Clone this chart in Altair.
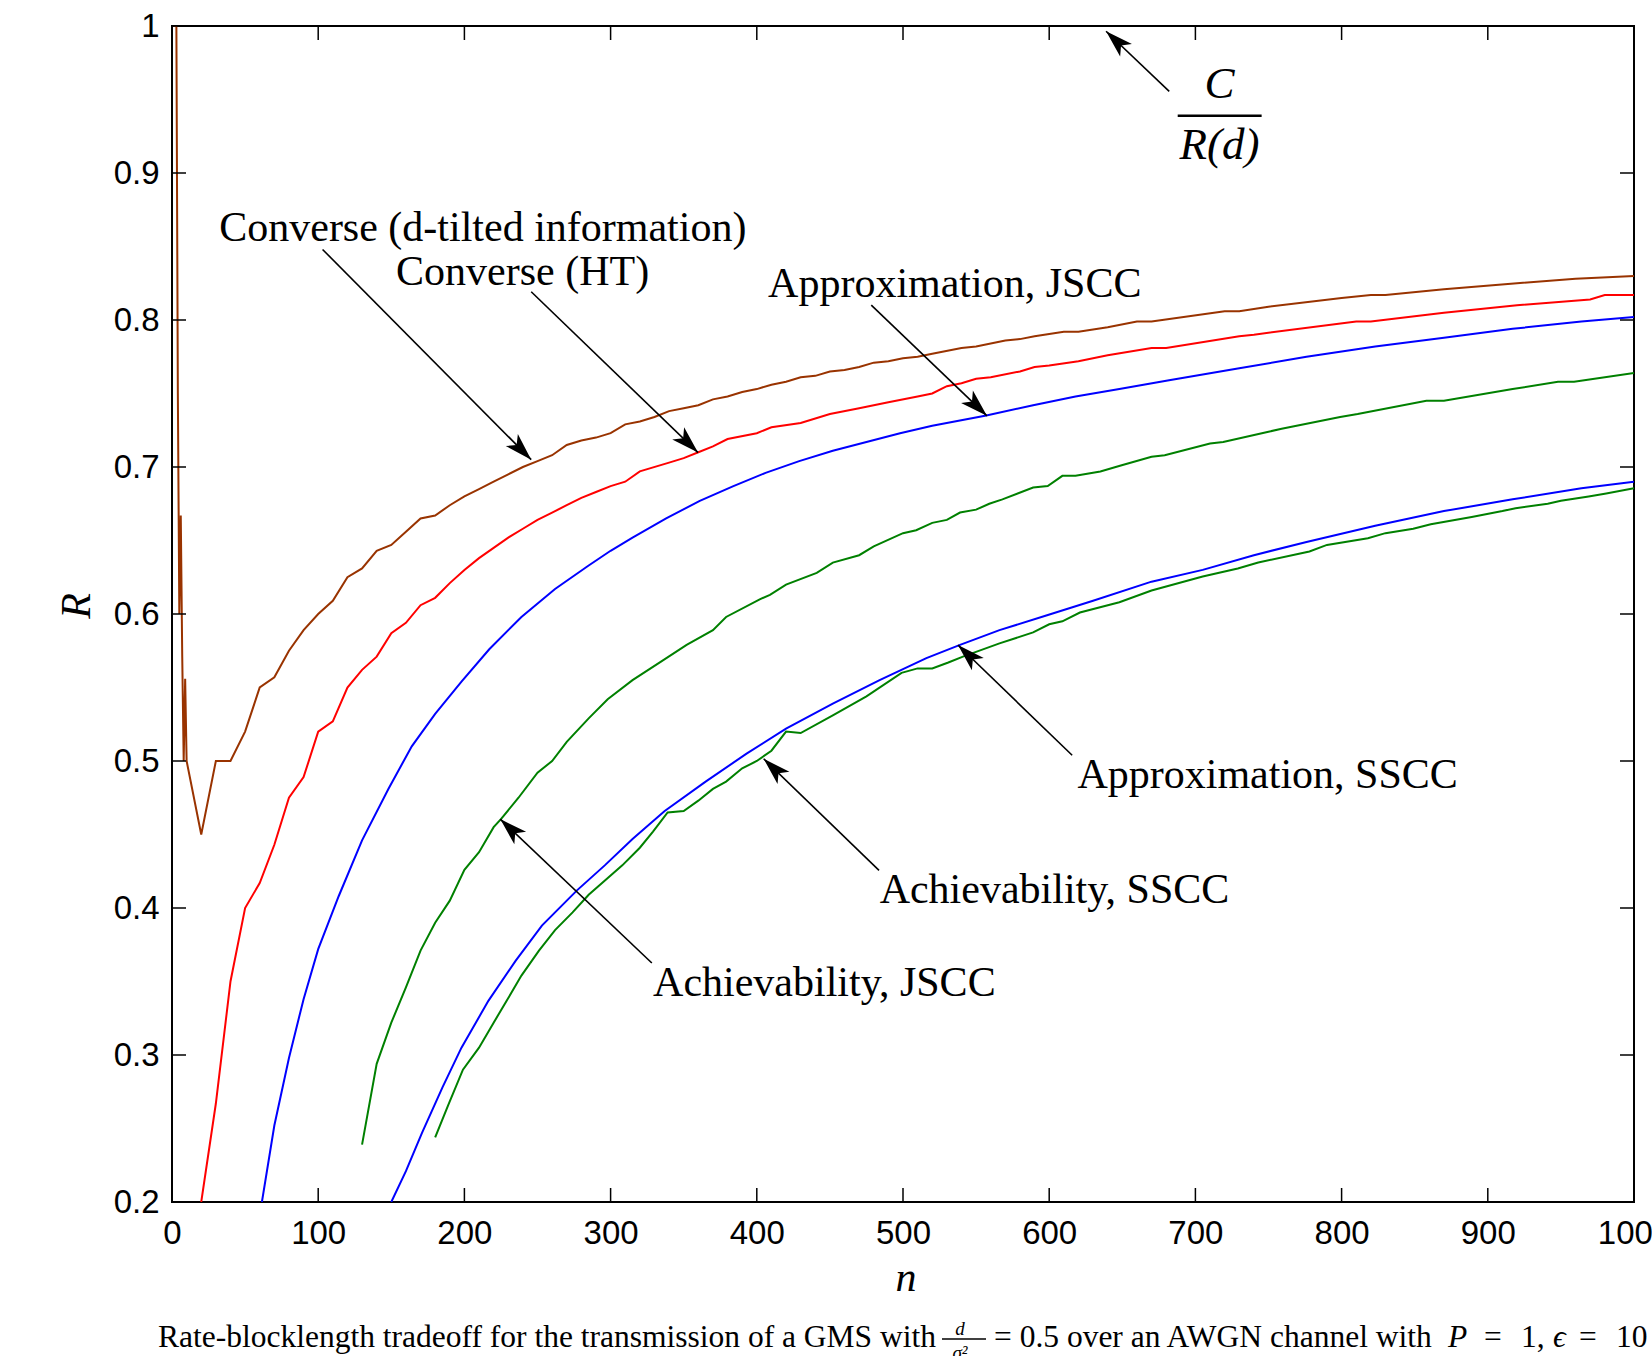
import math
import altair as alt
import pandas as pd

# ---------------- data ----------------
conv_dt_n = [1, 2, 3, 4, 5, 6, 7, 8, 9, 10, 20, 30, 40, 50, 60, 70, 80, 90, 100, 110, 120, 130, 140, 150, 160,
             170, 180, 190, 200, 210, 220, 230, 240, 250, 260, 270, 280, 290, 300, 310, 320, 330, 340, 350, 360,
             370, 380, 390, 400, 410, 420, 430, 440, 450, 460, 470, 480, 490, 500, 510, 520, 540, 550, 570, 580,
             590, 610, 620, 640, 660, 670, 720, 730, 750, 800, 820, 830, 870, 920, 960, 1000]
conv_dt_r = [1.0, 1.0, 1.0, 0.75, 0.6, 0.667, 0.571, 0.5, 0.556, 0.5, 0.45, 0.5, 0.5, 0.52, 0.55, 0.557, 0.575,
             0.589, 0.6, 0.609, 0.625, 0.631, 0.643, 0.647, 0.656, 0.665, 0.667, 0.674, 0.68, 0.685, 0.69, 0.695,
             0.7, 0.704, 0.708, 0.715, 0.718, 0.72, 0.723, 0.729, 0.731, 0.734, 0.738, 0.74, 0.742, 0.746, 0.748,
             0.751, 0.753, 0.756, 0.758, 0.761, 0.762, 0.765, 0.766, 0.768, 0.771, 0.772, 0.774, 0.775, 0.777,
             0.781, 0.782, 0.786, 0.787, 0.789, 0.792, 0.792, 0.795, 0.799, 0.799, 0.806, 0.806, 0.809, 0.815,
             0.817, 0.817, 0.821, 0.825, 0.828, 0.83]

conv_ht_n = [20, 30, 40, 50, 60, 70, 80, 90, 100, 110, 120, 130, 140, 150, 160, 170, 180, 190, 200, 210, 220,
             230, 240, 250, 260, 270, 280, 290, 300, 310, 320, 340, 350, 360, 370, 380, 400, 410, 430, 450, 470,
             490, 510, 520, 530, 540, 550, 560, 580, 590, 600, 620, 640, 670, 680, 730, 740, 810, 820, 870, 920,
             970, 980, 1000]
conv_ht_r = [0.2, 0.267, 0.35, 0.4, 0.417, 0.443, 0.475, 0.489, 0.52, 0.527, 0.55, 0.562, 0.571, 0.587, 0.594,
             0.606, 0.611, 0.621, 0.63, 0.638, 0.645, 0.652, 0.658, 0.664, 0.669, 0.674, 0.679, 0.683, 0.687,
             0.69, 0.697, 0.703, 0.706, 0.71, 0.714, 0.719, 0.723, 0.727, 0.73, 0.736, 0.74, 0.744, 0.748, 0.75,
             0.755, 0.757, 0.76, 0.761, 0.765, 0.768, 0.769, 0.772, 0.776, 0.781, 0.781, 0.789, 0.79, 0.799,
             0.799, 0.805, 0.81, 0.814, 0.817, 0.817]

appr_j_n = [61.5, 70, 80, 90, 100, 114, 130, 148, 164, 180, 198, 217, 239, 262, 285, 300, 315, 338, 361, 384,
            406, 429, 452, 475, 498, 520, 557, 589, 618, 648, 682, 729, 776, 823, 870, 917, 964, 1000]
appr_j_r = [0.2, 0.252, 0.298, 0.338, 0.372, 0.408, 0.446, 0.481, 0.51, 0.532, 0.554, 0.576, 0.598, 0.617,
            0.633, 0.643, 0.652, 0.665, 0.677, 0.687, 0.696, 0.704, 0.711, 0.717, 0.723, 0.728, 0.735, 0.742,
            0.748, 0.753, 0.759, 0.767, 0.775, 0.782, 0.788, 0.794, 0.799, 0.802]

ach_j_n = [130, 140, 150, 160, 170, 180, 190, 200, 210, 220, 225, 237, 250, 260, 270, 285, 298, 315, 335, 352,
           370, 379, 402, 409, 420, 441, 452, 470, 480, 500, 509, 520, 530, 539, 550, 559, 568, 589, 599, 609,
           618, 635, 649, 670, 679, 710, 719, 750, 759, 799, 811, 858, 870, 917, 948, 959, 1000]
ach_j_r = [0.239, 0.294, 0.322, 0.346, 0.371, 0.39, 0.405, 0.426, 0.438, 0.455, 0.4605, 0.475, 0.492, 0.5,
           0.513, 0.529, 0.542, 0.555, 0.568, 0.579, 0.589, 0.598, 0.61, 0.613, 0.62, 0.628, 0.635, 0.64, 0.646,
           0.655, 0.657, 0.662, 0.664, 0.669, 0.671, 0.675, 0.678, 0.686, 0.687, 0.694, 0.694, 0.697, 0.701,
           0.707, 0.708, 0.716, 0.717, 0.724, 0.726, 0.734, 0.736, 0.745, 0.745, 0.753, 0.758, 0.758, 0.764]

appr_s_n = [150, 160, 171, 185, 198, 216.5, 235, 253, 277, 296, 315, 337, 365, 393, 420, 452, 484, 516, 539,
            566, 598, 630, 670, 705, 740, 776, 823, 870, 917, 964, 1000]
appr_s_r = [0.2, 0.221, 0.247, 0.278, 0.305, 0.337, 0.364, 0.388, 0.412, 0.429, 0.447, 0.466, 0.486, 0.505,
            0.522, 0.539, 0.555, 0.57, 0.579, 0.589, 0.599, 0.609, 0.622, 0.63, 0.64, 0.649, 0.66, 0.67, 0.678,
            0.6855, 0.69]

ach_s_n = [180, 189, 199, 210, 220, 229, 239, 251, 262, 274, 285, 293, 308, 320, 329, 339, 350, 360, 370, 379,
           390, 400, 410, 420, 430, 452, 475, 499, 510, 520, 531, 541, 566, 589, 600, 609, 621, 648, 670, 705,
           729, 743, 778, 790, 818, 830, 849, 861, 889, 910, 919, 941, 950, 969, 981, 1000]
ach_s_r = [0.244, 0.266, 0.29, 0.305, 0.322, 0.337, 0.354, 0.371, 0.385, 0.397, 0.409, 0.416, 0.429, 0.441,
           0.452, 0.465, 0.466, 0.473, 0.481, 0.486, 0.495, 0.5, 0.507, 0.52, 0.519, 0.531, 0.544, 0.56, 0.563,
           0.563, 0.567, 0.571, 0.58, 0.5875, 0.593, 0.595, 0.601, 0.608, 0.616, 0.6255, 0.631, 0.635, 0.6425,
           0.647, 0.6515, 0.655, 0.658, 0.661, 0.666, 0.67, 0.672, 0.675, 0.677, 0.68, 0.682, 0.6855]

series_names = ["Converse (d-tilted information)", "Converse (HT)", "Approximation, JSCC",
                "Achievability, JSCC", "Approximation, SSCC", "Achievability, SSCC"]
series_colors = ["#993300", "#ff0000", "#0000ff", "#008000", "#0000ff", "#008000"]

x_ticks = [0, 100, 200, 300, 400, 500, 600, 700, 800, 900, 1000]
y_ticks = [0.2, 0.3, 0.4, 0.5, 0.6, 0.7, 0.8, 0.9, 1.0]

# annotations (data coordinates)
ann_text = ["Converse (d-tilted information)", "Converse (HT)", "Approximation, JSCC",
            "Approximation, SSCC", "Achievability, SSCC", "Achievability, JSCC"]
ann_x = [212.6, 239.8, 535.4, 749.4, 603.6, 446.2]
ann_y = [0.8623, 0.8329, 0.8244, 0.4903, 0.4122, 0.3491]

arr_x0 = [103.0, 245.7, 478.3, 615.7, 483.6, 328.2, 682.1]
arr_y0 = [0.848, 0.8192, 0.8101, 0.5039, 0.4256, 0.3626, 0.9555]
arr_x1 = [245.7, 359.8, 557.4, 537.6, 404.7, 224.5, 638.9]
arr_y1 = [0.705, 0.7098, 0.7348, 0.5789, 0.5015, 0.4605, 0.9964]

frac_text = ["C", "R(d)"]
frac_x = [716.5, 716.5]
frac_y = [0.9607, 0.919]
frac_bar_x = [687.9]
frac_bar_x2 = [745.3]
frac_bar_y = [0.939]

caption_1 = "Rate-blocklength tradeoff for the transmission of a GMS with"
caption_2 = "= 0.5 over an AWGN channel with"
caption_3 = ["P", "=", "1,", "\u03f5", "=", "10"]
caption_3_style = ["italic", "normal", "normal", "italic", "normal", "normal"]
caption_3_x = [1276, 1312, 1349, 1381, 1407, 1444]

# ---------------- geometry ----------------
W, H = 1462, 1176
XD = [0, 1000]
YD = [0.2, 1.0]
xs = alt.Scale(domain=XD, nice=False, zero=False)
ys = alt.Scale(domain=YD, nice=False, zero=False)

AX = alt.Axis(values=x_ticks, format="d", ticks=False, domain=False, grid=False,
              labelFont="Liberation Sans", labelFontSize=33, labelColor="black",
              labelPadding=15, labelFlush=False, title=None)
AY = alt.Axis(values=y_ticks, ticks=False, domain=False, grid=False,
              labelExpr="datum.value == 1 ? '1' : format(datum.value, '.1f')",
              labelFont="Liberation Sans", labelFontSize=33, labelColor="black",
              labelPadding=13, labelFlush=False, title=None)


def X(f):
    return alt.X(f, scale=xs, axis=AX)


def Y(f):
    return alt.Y(f, scale=ys, axis=AY)


rows = []
for name, ns, rs in [(series_names[0], conv_dt_n, conv_dt_r), (series_names[1], conv_ht_n, conv_ht_r),
                     (series_names[2], appr_j_n, appr_j_r), (series_names[3], ach_j_n, ach_j_r),
                     (series_names[4], appr_s_n, appr_s_r), (series_names[5], ach_s_n, ach_s_r)]:
    assert len(ns) == len(rs), name
    rows += [{"series": name, "n": a, "R": b} for a, b in zip(ns, rs)]
df = pd.DataFrame(rows)

lines = alt.Chart(df).mark_line(strokeWidth=2, clip=True).encode(
    x=X("n:Q"), y=Y("R:Q"),
    color=alt.Color("series:N", scale=alt.Scale(domain=series_names, range=series_colors), legend=None),
)

# inward ticks on all four sides
xt = pd.DataFrame({"t": x_ticks})
yt = pd.DataFrame({"t": y_ticks})
TL = 14
tick_layers = [
    alt.Chart(xt).mark_rule(color="black", strokeWidth=1.5).encode(
        x=X("t:Q"), y=alt.value(H), y2=alt.value(H - TL)),
    alt.Chart(xt).mark_rule(color="black", strokeWidth=1.5).encode(
        x=X("t:Q"), y=alt.value(0), y2=alt.value(TL)),
    alt.Chart(yt).mark_rule(color="black", strokeWidth=1.5).encode(
        y=Y("t:Q"), x=alt.value(0), x2=alt.value(TL)),
    alt.Chart(yt).mark_rule(color="black", strokeWidth=1.5).encode(
        y=Y("t:Q"), x=alt.value(W), x2=alt.value(W - TL)),
]

# annotations
ann_df = pd.DataFrame({"label": ann_text, "x": ann_x, "y": ann_y})
ann = alt.Chart(ann_df).mark_text(font="Liberation Serif", fontSize=42, color="black",
                                  align="center", baseline="middle").encode(
    x=X("x:Q"), y=Y("y:Q"), text="label:N")

angles = []
for a0, b0, a1, b1 in zip(arr_x0, arr_y0, arr_x1, arr_y1):
    dx = (a1 - a0) * W / (XD[1] - XD[0])
    dy = -(b1 - b0) * H / (YD[1] - YD[0])
    angles.append(math.degrees(math.atan2(dx, -dy)) % 360)
arr_df = pd.DataFrame({"x0": arr_x0, "y0": arr_y0, "x1": arr_x1, "y1": arr_y1, "ang": angles})
arrows = alt.Chart(arr_df).mark_rule(color="black", strokeWidth=1.6).encode(
    x=X("x0:Q"), y=Y("y0:Q"), x2="x1:Q", y2="y1:Q")
heads = alt.Chart(arr_df).mark_point(
    shape="M0,0 L0.62,2 L0,1.5 L-0.62,2 Z", filled=True, size=760, color="black", opacity=1, strokeWidth=0
).encode(x=X("x1:Q"), y=Y("y1:Q"), angle=alt.Angle("ang:Q", scale=None))

frac_df = pd.DataFrame({"t": frac_text, "x": frac_x, "y": frac_y})
frac = alt.Chart(frac_df).mark_text(font="Liberation Serif", fontSize=45, fontStyle="italic", color="black",
                                    align="center", baseline="middle").encode(
    x=X("x:Q"), y=Y("y:Q"), text="t:N")
bar_df = pd.DataFrame({"x": frac_bar_x, "x2": frac_bar_x2, "y": frac_bar_y})
bar = alt.Chart(bar_df).mark_rule(color="black", strokeWidth=2.5).encode(
    x=X("x:Q"), x2="x2:Q", y=Y("y:Q"))


# axis titles (math italic) and caption, placed relative to the plot area
def txt(s, x, y, size, style="normal", align="center", angle=0, baseline="middle"):
    return alt.Chart(pd.DataFrame({"t": [s]})).mark_text(
        font="Liberation Serif", fontSize=size, fontStyle=style, color="black", align=align,
        baseline=baseline, angle=angle).encode(text="t:N", x=alt.value(x), y=alt.value(y))


xlab = txt("n", 734, 1252, 42, "italic")
ylab = txt("R", -95, 580, 42, "italic", angle=270)
CAP_Y = 1321
cap1 = txt(caption_1, -14, CAP_Y, 31.5, align="left", baseline="alphabetic")
cap_d = txt("d", 788, 1309, 19, "italic", baseline="alphabetic")
cap_s = txt("\u03c3\u00b2", 788, 1333, 19, "italic", baseline="alphabetic")
cap_bar = alt.Chart(pd.DataFrame({"a": [0]})).mark_rule(color="black", strokeWidth=1.3).encode(
    x=alt.value(770), x2=alt.value(814), y=alt.value(1313))
cap2 = txt(caption_2, 822, CAP_Y, 31.5, align="left", baseline="alphabetic")
cap3 = [txt(s, x, CAP_Y, 31.5, st, align="left", baseline="alphabetic")
        for s, x, st in zip(caption_3, caption_3_x, caption_3_style)]

chart = alt.layer(
    lines, *tick_layers, arrows, heads, ann, frac, bar, xlab, ylab, cap1, cap_d, cap_s, cap_bar, cap2, *cap3
).properties(
    width=W, height=H, autosize=alt.AutoSizeParams(type="none"),
    padding={"left": 172, "top": 26, "right": 18, "bottom": 154},
    background="white",
).configure_view(stroke="black", strokeWidth=2)

chart.save("out.html", embed_options={"renderer": "svg", "actions": False})
